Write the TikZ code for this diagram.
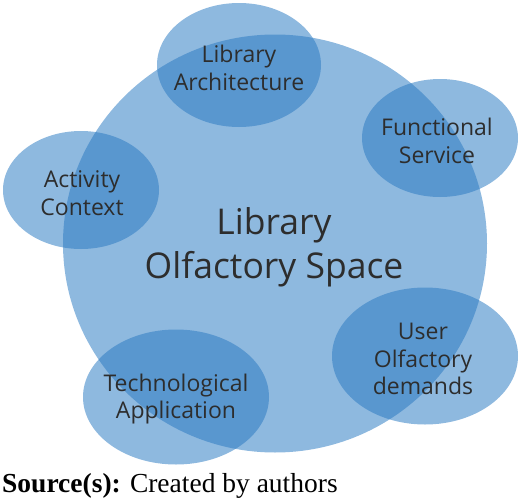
\documentclass[tikz,border=0pt]{standalone}
\usepackage{fontspec}
\usetikzlibrary{shapes.geometric}
\newfontfamily\labfont{Open Sans}
\newfontfamily\srcfont{Liberation Serif}
\definecolor{bubblue}{RGB}{42,122,194}
\definecolor{labtext}{RGB}{45,45,45}
\tikzset{
  bub/.style={ellipse, fill=bubblue, fill opacity=0.53, draw=none, inner sep=0pt},
  small/.style={text=labtext, align=center, font=\labfont\fontsize{23}{27.5}\selectfont, inner sep=0pt},
  big/.style={text=labtext, align=center, font=\labfont\fontsize{35.5}{44}\selectfont, inner sep=0pt}
}
\begin{document}
\begin{tikzpicture}[x=1pt,y=-1pt]
\useasboundingbox (0,0) rectangle (520,501);
\node[bub, minimum width=424pt, minimum height=418pt] (space) at (275,243.5) {};
\node[bub, minimum width=164pt, minimum height=124pt] (arch) at (239,65) {};
\node[bub, minimum width=156pt, minimum height=118pt] (func) at (440,138) {};
\node[bub, minimum width=156pt, minimum height=118pt] (act) at (81,190) {};
\node[bub, minimum width=186pt, minimum height=137pt] (user) at (425,356) {};
\node[bub, minimum width=186pt, minimum height=135pt] (tech) at (176,397) {};
\node[big] (spacet) at (274,247) {Library\\Olfactory Space};
\node[small] (archt) at (239,68) {Library\\Architecture};
\node[small] (funct) at (437,141) {Functional\\Service};
\node[small] (actt) at (82,193) {Activity\\Context};
\node[small] (usert) at (423,359) {User\\Olfactory\\demands};
\node[small] (techt) at (176,399) {Technological\\Application};
\node[anchor=base west, inner sep=0pt, font=\srcfont\fontsize{27.5}{33}\selectfont] (src) at (2,492) {\textbf{Source(s):} Created by authors};
\end{tikzpicture}
\end{document}
